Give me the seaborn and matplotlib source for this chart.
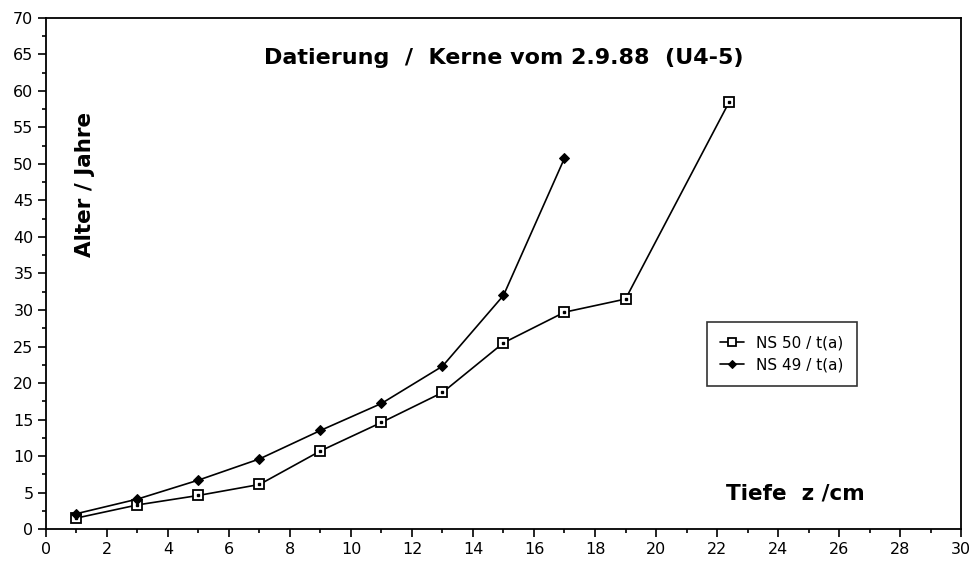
import matplotlib
matplotlib.use("Agg")
import matplotlib.pyplot as plt
import seaborn as sns
import pandas as pd
from matplotlib.ticker import MultipleLocator

# Data
depth_ns50 = [1, 3, 5, 7, 9, 11, 13, 15, 17, 19, 22.4]
age_ns50 = [1.5, 3.3, 4.6, 6.1, 10.7, 14.6, 18.7, 25.5, 29.7, 31.5, 58.5]
depth_ns49 = [1, 3, 5, 7, 9, 11, 13, 15, 17]
age_ns49 = [2.1, 4.1, 6.7, 9.6, 13.5, 17.2, 22.3, 32.0, 50.8]
label_ns50 = "NS 50 / t(a)"
label_ns49 = "NS 49 / t(a)"
x_ticks = list(range(0, 31, 2))
y_ticks = list(range(0, 71, 5))

sns.set_theme(style="white")
plt.rcParams['font.family'] = ['DejaVu Sans']
plt.rcParams['text.color'] = 'black'
plt.rcParams['axes.labelcolor'] = 'black'
plt.rcParams['xtick.color'] = 'black'
plt.rcParams['ytick.color'] = 'black'

df50 = pd.DataFrame({"z": depth_ns50, "t": age_ns50})
df49 = pd.DataFrame({"z": depth_ns49, "t": age_ns49})

fig = plt.figure(figsize=(9.72, 5.62), dpi=100)
ax = fig.add_axes([0.0473, 0.0587, 0.9414, 0.9093])

sns.lineplot(data=df50, x="z", y="t", ax=ax, color="black", lw=1.2,
             marker="s", markersize=7, markerfacecolor="white",
             markeredgecolor="black", markeredgewidth=1.3, label=label_ns50)
sns.lineplot(data=df49, x="z", y="t", ax=ax, color="black", lw=1.2,
             marker="D", markersize=5.5, markerfacecolor="black",
             markeredgecolor="black", label=label_ns49)
# center dots of square markers
ax.plot(depth_ns50, age_ns50, linestyle="none", marker="s", markersize=1.5,
        color="black")

ax.set_xlim(0, 30)
ax.set_ylim(0, 70)
ax.set_xticks(x_ticks)
ax.set_yticks(y_ticks)
ax.xaxis.set_minor_locator(MultipleLocator(1))
ax.yaxis.set_minor_locator(MultipleLocator(2.5))
ax.tick_params(axis="both", which="major", direction="out", length=6,
               width=1.2, colors="black", labelsize=11.5, pad=3,
               bottom=True, left=True)
ax.tick_params(axis="both", which="minor", direction="out", length=3,
               width=1.2, color="black", bottom=True, left=True)
for s in ax.spines.values():
    s.set_visible(True)
    s.set_color("black")
    s.set_linewidth(1.3)

ax.set_xlabel("")
ax.set_ylabel("")
ax.text(0.5, 0.922, "Datierung  /  Kerne vom 2.9.88  (U4-5)",
        transform=ax.transAxes, ha="center", va="center",
        fontsize=16, fontweight="bold", color="black")
ax.text(0.0426, 0.675, "Alter / Jahre", transform=ax.transAxes, rotation=90,
        ha="center", va="center", fontsize=15.5, fontweight="bold",
        color="black")
ax.text(0.819, 0.070, "Tiefe  z /cm", transform=ax.transAxes,
        ha="center", va="center", fontsize=15.5, fontweight="bold",
        color="black")

leg = ax.legend(loc="upper left", bbox_to_anchor=(0.722, 0.405),
                borderaxespad=0, frameon=True, fancybox=False, fontsize=11,
                handlelength=1.6, borderpad=0.85, labelspacing=0.5,
                markerscale=0.8)
leg.get_frame().set_edgecolor("black")
leg.get_frame().set_linewidth(1.2)

fig.savefig("out.png", dpi=100)
